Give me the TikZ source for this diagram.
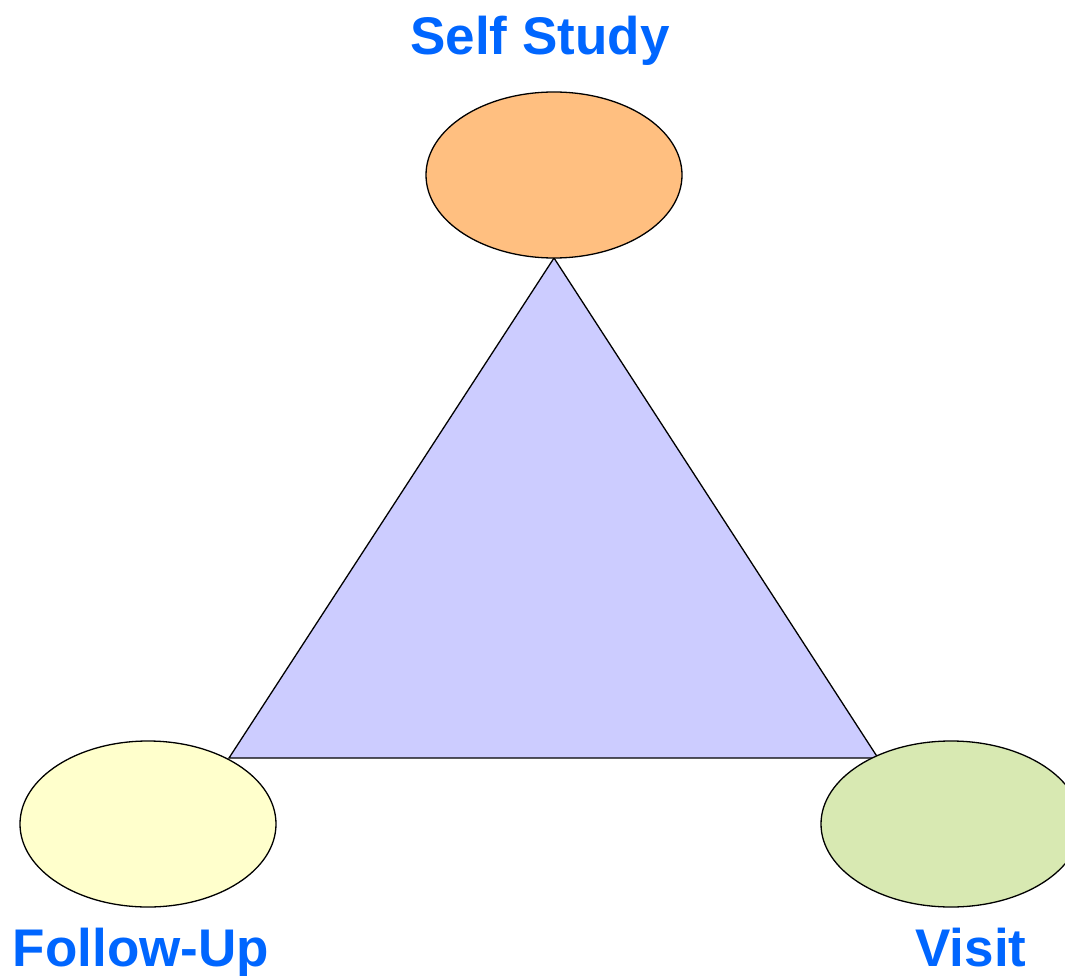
\documentclass[tikz,border=0pt]{standalone}
\usepackage{fontspec}
\setmainfont{Liberation Sans}
\usetikzlibrary{shapes.geometric}
\definecolor{lblblue}{HTML}{0066FF}
\definecolor{orangefill}{HTML}{FFBF80}
\definecolor{yellowfill}{HTML}{FFFFCC}
\definecolor{greenfill}{HTML}{D8E9B2}
\definecolor{trifill}{HTML}{CCCCFF}
\tikzset{
  blob/.style={ellipse, draw=black, line width=1.3pt, minimum width=256pt, minimum height=166pt, inner sep=0pt},
  lbl/.style={anchor=base, text=lblblue, font=\fontsize{53}{60}\selectfont\bfseries, inner sep=0pt},
}
\begin{document}
\begin{tikzpicture}[x=1pt,y=-1pt]
\clip (0,0) rectangle (1065,976);
\fill[white] (0,0) rectangle (1065,976);
\coordinate (apex) at (554,258);
\coordinate (bl) at (229,758);
\coordinate (br) at (878,758);
\draw[fill=trifill, line width=1.3pt, line join=miter] (apex) -- (bl) -- (br) -- cycle;
\node[blob, fill=orangefill] (self) at (554,175) {};
\node[blob, fill=yellowfill] (follow) at (148,824) {};
\node[blob, fill=greenfill, minimum width=260pt] (visit) at (951,824) {};
\node[lbl] (tself) at (540,55) {Self Study};
\node[lbl] (tfollow) at (141,966) {Follow-Up};
\node[lbl] (tvisit) at (971,966) {Visit};
\end{tikzpicture}
\end{document}
